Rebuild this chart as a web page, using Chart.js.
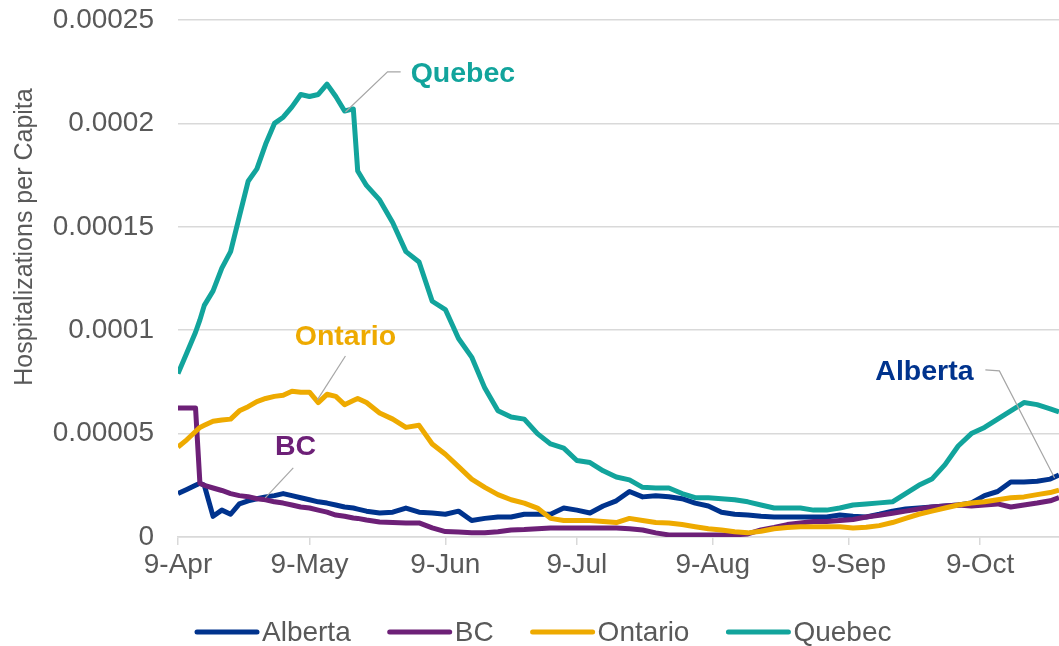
<!DOCTYPE html>
<html>
<head>
<meta charset="utf-8">
<script src="https://cdn.jsdelivr.net/npm/chart.js@4/dist/chart.umd.min.js"></script>
<style>
  html, body { margin: 0; padding: 0; background: #fff; }
  #wrap { width: 1059px; height: 646px; }
</style>
</head>
<body>
<div id="wrap"><canvas id="hospChart"></canvas></div>
<script>
// days since 9-Apr
const days = [0, 2, 4, 5, 6, 8, 10, 12, 14, 16, 18, 20, 22, 24, 26, 28, 30, 32, 34, 36, 38, 40, 41, 43,
  46, 49, 52, 55, 58, 61, 64, 67, 70, 73, 76, 79, 82, 85, 88, 91, 94, 97, 100, 103, 106, 109, 112, 115,
  118, 121, 124, 127, 130, 133, 136, 139, 142, 145, 148, 151, 154, 157, 160, 163, 166, 169, 172, 175,
  178, 181, 184, 187, 190, 193, 196, 199, 201];

// hospitalizations per million people (converted to per capita below)
const alberta = [21, 23, 25, 26, 25, 10, 13, 11, 16, 17.5, 18.5, 19.4, 20, 21, 20, 19, 18, 17, 16.4, 15.5, 14.5, 14, 13.5, 12.5,
  11.6, 12, 14, 12, 11.6, 11, 12.5, 8, 9, 9.7, 9.7, 11, 11, 11, 14, 13, 11.6, 15, 17.5, 22, 19.4, 20, 19.5, 18.5,
  16.4, 15, 12, 11, 10.6, 10, 9.7, 9.7, 9.7, 9.7, 9.7, 10.6, 10, 9.7, 11, 12.5, 13.5, 14, 14.5, 15,
  15.5, 16.5, 20, 22, 26.6, 26.6, 27, 28, 30];
const bc = [62.4, 62.4, 62.4, 26, 25, 23.7, 22.5, 21, 20, 19.5, 18.5, 18, 17, 16.4, 15.5, 14.5, 14, 13, 12, 10.6, 10, 9.2, 9, 8.2,
  7.3, 7, 6.8, 6.8, 4.4, 2.6, 2.4, 2, 2, 2.5, 3.4, 3.6, 4, 4.4, 4.4, 4.4, 4.4, 4.4, 4.4, 4, 3.4, 2, 1, 1,
  1, 1, 1, 1, 1.5, 3.4, 4.6, 6, 6.8, 7.5, 7.5, 8, 8.5, 9.7, 10.5, 11.5, 12.5, 13.5, 14.5, 15,
  15.5, 15, 15.5, 16, 14.5, 15.5, 16.4, 17.5, 19];
const ontario = [43.5, 47, 51, 53, 54, 56, 56.6, 57, 61, 63, 65.5, 67, 68, 68.5, 70.5, 70, 70, 65, 69, 68, 64, 66, 67, 65,
  60, 57, 53, 54, 45, 40, 34, 28, 24, 20.5, 18, 16.4, 14, 9, 8, 8, 8, 7.5, 7, 9, 8, 7, 6.8, 6,
  5, 4, 3.4, 2.5, 2, 2.8, 4, 4.6, 5, 5, 5, 5, 4.4, 4.7, 5.5, 7, 9, 11, 12.5, 14,
  15.5, 16.4, 17, 18, 19, 19.4, 20.5, 21.5, 22.7];
const quebec = [79, 89, 99, 105, 112, 119, 130, 138, 155, 172, 178, 190, 200, 203, 208, 214, 213, 214, 219, 213, 206, 207, 177, 170,
  163, 152, 138, 133, 114, 110, 96, 87, 72, 61, 58, 57, 50, 45, 43, 37, 36, 32, 29, 27.6, 24, 23.7, 23.7, 21,
  19, 19, 18.5, 18, 17, 15.5, 14, 14, 14, 13, 13, 14, 15.5, 16, 16.5, 17, 21, 25, 28, 35,
  44, 50, 53, 57, 61, 65, 64, 62, 60.5];

const tickDays = [0, 30, 61, 91, 122, 153, 183];
const tickLabels = ['9-Apr', '9-May', '9-Jun', '9-Jul', '9-Aug', '9-Sep', '9-Oct'];

const seriesNames = ['Alberta', 'BC', 'Ontario', 'Quebec'];
const seriesValues = [alberta, bc, ontario, quebec];
const seriesColors = ['#00338D', '#6D2077', '#EEAA00', '#12A49C'];

const yTitle = 'Hospitalizations per Capita';

// callout labels: text anchor and leader line, in (day, per-million) space
const callouts = [
  { name: 'Quebec', at: [65, 224], line: [[50.8, 224.9], [47.8, 224.9], [38.2, 205.5]] },
  { name: 'Ontario', at: [38.2, 96.7], line: [[38.2, 87.5], [31.8, 66.3]] },
  { name: 'BC', at: [26.8, 43.5], line: [[26.3, 33.4], [19.9, 18.9]] },
  { name: 'Alberta', at: [170.3, 79.8], line: [[184.2, 80.8], [187.4, 80.3], [200, 28.5]] },
];

const FONT = "'Liberation Sans', Arial, sans-serif";
const GREY = '#595959';

const calloutPlugin = {
  id: 'callouts',
  afterDatasetsDraw(chart) {
    const { ctx, scales: { x, y } } = chart;
    ctx.save();
    callouts.forEach(c => {
      const color = seriesColors[seriesNames.indexOf(c.name)];
      ctx.strokeStyle = '#A6A6A6';
      ctx.lineWidth = 1.2;
      ctx.beginPath();
      c.line.forEach((p, i) => {
        const px = x.getPixelForValue(p[0]), py = y.getPixelForValue(p[1] / 1e6);
        i ? ctx.lineTo(px, py) : ctx.moveTo(px, py);
      });
      ctx.stroke();
      ctx.fillStyle = color;
      ctx.font = `bold 28.5px ${FONT}`;
      ctx.textAlign = 'center';
      ctx.textBaseline = 'middle';
      ctx.fillText(c.name, x.getPixelForValue(c.at[0]), y.getPixelForValue(c.at[1] / 1e6));
    });
    ctx.restore();
  }
};

// line-sample legend under the axis + axis title centred on the whole chart height
const legendPlugin = {
  id: 'lineLegend',
  afterDraw(chart) {
    const { ctx } = chart;
    const sample = 60, gap = 5, itemGap = 39, cy = 632;
    ctx.save();
    ctx.font = `28px ${FONT}`;
    ctx.textBaseline = 'middle';
    let cx = 197;
    chart.data.datasets.forEach(ds => {
      ctx.strokeStyle = ds.borderColor;
      ctx.lineWidth = 5;
      ctx.lineCap = 'round';
      ctx.beginPath();
      ctx.moveTo(cx, cy);
      ctx.lineTo(cx + sample, cy);
      ctx.stroke();
      ctx.fillStyle = GREY;
      ctx.fillText(ds.label, cx + sample + gap, cy + 1);
      cx += sample + gap + ctx.measureText(ds.label).width + itemGap;
    });

    ctx.translate(25, 237);
    ctx.rotate(-Math.PI / 2);
    ctx.font = `25px ${FONT}`;
    ctx.textAlign = 'center';
    ctx.fillText(yTitle, 0, 0);
    ctx.restore();
  }
};

new Chart(document.getElementById('hospChart'), {
  type: 'line',
  data: {
    datasets: seriesNames.map((name, i) => ({
      label: name,
      data: days.map((d, j) => ({ x: d, y: seriesValues[i][j] / 1e6 })),
      borderColor: seriesColors[i],
      backgroundColor: seriesColors[i],
      borderWidth: 5,
      borderJoinStyle: 'round',
      pointRadius: 0,
      tension: 0,
      order: 4 - i
    }))
  },
  options: {
    responsive: true,
    maintainAspectRatio: false,
    animation: false,
    layout: { padding: { top: 0, right: 0, bottom: 67, left: 0 } },
    plugins: {
      legend: { display: false },
      tooltip: { enabled: false }
    },
    scales: {
      x: {
        type: 'linear',
        min: 0,
        max: 201,
        afterBuildTicks: s => { s.ticks = tickDays.map(v => ({ value: v })); },
        afterFit: s => { s.height = 42; },
        ticks: {
          autoSkip: false,
          maxRotation: 0,
          padding: 3,
          color: GREY,
          font: { family: FONT, size: 28 },
          callback: v => tickLabels[tickDays.indexOf(v)]
        },
        grid: { drawOnChartArea: false, drawTicks: true, tickLength: 8, color: '#D9D9D9', lineWidth: 1.5 },
        border: { display: true, color: '#D9D9D9', width: 1.5 }
      },
      y: {
        min: 0,
        max: 0.00025,
        afterFit: s => { s.width = 178; s.paddingTop = 20; s.paddingBottom = 0; },
        ticks: {
          stepSize: 0.00005,
          padding: 24,
          color: GREY,
          font: { family: FONT, size: 28 },
          callback: v => String(+v.toPrecision(2))
        },
        grid: { drawTicks: false, color: '#D9D9D9', lineWidth: 1.5 },
        border: { display: false }
      }
    }
  },
  plugins: [calloutPlugin, legendPlugin]
});
</script>
</body>
</html>
